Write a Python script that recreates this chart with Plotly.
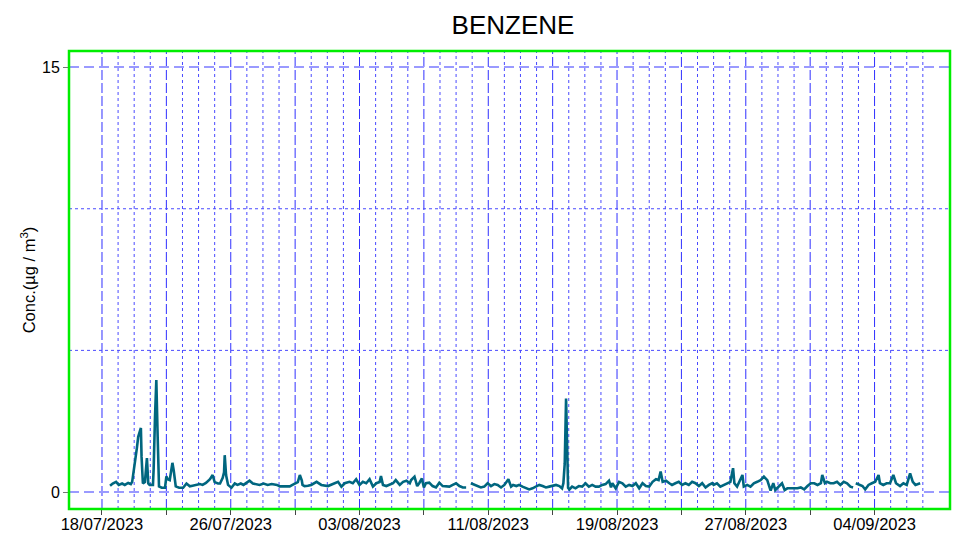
import plotly.graph_objects as go
import pandas as pd

# hours since 2023-07-18 00:00 and benzene concentration (µg/m³)
hours = [12,16,21,25,30,34,39,43,45,46,49,52,54,56,58,59,61,64,67,69,71,76,77,79,81,83,85,89,94,96,98,101,105,107,110,115,121,126,131,135,141,146,150,155,161,165,168,173,176,180,182,183,185,188,193,198,202,207,211,216,220,225,229,235,241,247,253,261,265,271,277,280,284,289,292,295,298,299,
         302,307,312,320,327,337,347,352,357,362,369,374,379,384,389,394,399,404,409,414,416,419,424,429,434,438,444,449,454,459,461,466,470,473,477,480,483,488,493,498,503,508,513,518,523,528,533,538,543,546,550,555,560,565,570,575,580,585,590,595,600,606,610,
         613,618,622,627,632,637,642,647,652,657,662,667,672,677,682,686,688,690,692,694,695,697,701,706,711,716,721,726,731,736,741,746,751,756,759,761,766,771,776,781,786,791,796,801,806,811,816,821,826,830,833,836,841,846,850,855,860,865,870,875,880,885,890,895,900,905,910,
         912,917,922,927,932,937,941,943,947,952,955,957,962,967,972,977,982,987,992,997,1001,1004,1009,1014,1018,1022,1027,1032,1037,1042,1047,1052,1057,1062,1067,1072,1074,1078,1081,1086,1091,1096,1101,1106,1111,1116,1120,1122,1124,1129,1134,1138,1143,1148,1153,1158,1160,1165,1170,1175,1180,1184,1190,1195,1200,1205,1209,1213,1218,1220]
values = [0.22,0.30,0.36,0.25,0.30,0.25,0.32,0.28,0.36,0.53,0.90,1.55,1.95,2.10,2.26,1.24,0.30,0.35,1.20,0.30,0.25,0.25,0.80,2.60,3.95,1.95,0.20,0.15,0.15,0.55,0.45,0.42,1.03,0.75,0.20,0.15,0.15,0.30,0.20,0.22,0.25,0.28,0.25,0.32,0.45,0.60,0.35,0.30,0.30,0.50,0.70,1.30,0.60,0.25,0.15,0.30,0.25,0.30,0.25,0.32,0.40,0.30,0.28,0.25,0.30,0.25,0.28,0.25,0.20,0.20,0.22,0.20,0.25,0.30,0.35,0.60,0.40,0.25,
          0.21,0.22,0.25,0.36,0.25,0.21,0.31,0.36,0.19,0.31,0.36,0.31,0.45,0.25,0.36,0.31,0.45,0.19,0.31,0.35,0.56,0.25,0.21,0.25,0.31,0.42,0.25,0.36,0.40,0.31,0.42,0.54,0.21,0.31,0.48,0.16,0.31,0.33,0.21,0.16,0.33,0.21,0.19,0.19,0.25,0.31,0.21,0.16,0.16,None,0.31,0.25,0.21,0.16,0.19,0.31,0.21,0.28,0.25,0.16,0.25,0.45,0.19,
          0.25,0.21,0.25,0.19,0.13,0.09,0.13,0.19,0.25,0.21,0.16,0.19,0.21,0.25,0.21,0.13,0.31,1.00,3.30,1.50,0.15,0.09,0.19,0.13,0.21,0.19,0.31,0.19,0.25,0.19,0.19,0.25,0.28,0.40,0.16,0.31,0.13,0.36,0.31,0.19,0.25,0.21,0.31,0.13,0.31,0.21,0.19,0.36,0.45,0.42,0.72,0.36,0.40,0.31,0.25,0.31,0.36,0.25,0.31,0.25,0.36,0.31,0.21,0.31,0.16,0.25,0.31,
          0.25,0.31,0.19,0.25,0.31,0.36,0.84,0.31,0.19,0.42,0.60,0.19,0.25,0.19,0.31,0.36,0.42,0.54,0.42,0.05,0.31,0.07,0.19,0.31,0.07,0.13,0.13,0.13,0.13,0.16,0.09,0.21,0.31,0.31,0.25,0.31,0.60,0.31,0.36,0.31,0.31,0.36,0.25,0.36,0.31,0.19,0.16,None,0.31,0.25,0.21,0.09,0.25,0.31,0.36,0.60,0.31,0.25,0.31,0.31,0.60,0.31,0.21,0.31,0.25,0.66,0.36,0.25,0.31,0.31]

start = pd.Timestamp("2023-07-18 00:00")
times = [start + pd.Timedelta(hours=h) for h in hours]

label_days = list(range(0, 49, 8))
major_days = list(range(0, 49, 4))
minor_days = [d for d in range(0, 52) if d % 4 != 0]
y_labels = [0, 15]
y_minor = [5, 10]

def day(d):
    return start + pd.Timedelta(days=d)

label_vals = [day(d) for d in label_days]
label_text = [day(d).strftime("%d/%m/%Y") for d in label_days]

x_lo = start - pd.Timedelta(hours=49.2)
x_hi = start + pd.Timedelta(hours=1264.5)

shapes = []
for d in minor_days:
    shapes.append(dict(type="line", xref="x", yref="paper", x0=day(d), x1=day(d), y0=0, y1=1,
                       line=dict(color="#4a4aff", width=1, dash="dot"), layer="below"))
for d in major_days:
    shapes.append(dict(type="line", xref="x", yref="paper", x0=day(d), x1=day(d), y0=0, y1=1,
                       line=dict(color="#3030ff", width=1, dash="10px,3px"), layer="below"))
for v in y_minor:
    shapes.append(dict(type="line", xref="paper", yref="y", x0=0, x1=1, y0=v, y1=v,
                       line=dict(color="#4a4aff", width=1, dash="dot"), layer="below"))
shapes.append(dict(type="rect", xref="paper", yref="paper", x0=0, x1=1, y0=0, y1=1,
                   line=dict(color="#00ee00", width=2.5), layer="above"))

fig = go.Figure()
fig.add_trace(go.Scatter(x=times, y=values, mode="lines",
                         line=dict(color="#00667f", width=2.6),
                         connectgaps=False, showlegend=False))

fig.update_layout(
    width=953, height=534, autosize=False,
    margin=dict(l=69, r=3, t=51, b=25),
    paper_bgcolor="white", plot_bgcolor="white",
    title=dict(text="BENZENE", x=513/953, xanchor="center", xref="container",
               y=1 - 25/534, yanchor="middle", yref="container",
               font=dict(family="Arial, Liberation Sans", size=26, color="black")),
    font=dict(family="Arial, Liberation Sans", size=16, color="black"),
    xaxis=dict(range=[x_lo, x_hi], tickmode="array", tickvals=label_vals, ticktext=label_text,
               ticks="outside", ticklen=5, tickcolor="#444444", tickwidth=1,
               showgrid=False, automargin=False, ticklabelstandoff=-5,
               minor=dict(tickmode="array", tickvals=[day(d) for d in major_days],
                          ticks="outside", ticklen=5, tickcolor="#444444", showgrid=False),
               showline=True, linecolor="black", linewidth=1, zeroline=False,
               tickfont=dict(size=16.5), tickangle=0),
    yaxis=dict(range=[-0.6, 15.57], tickmode="array", tickvals=y_labels,
               ticktext=[str(v) for v in y_labels],
               ticks="outside", ticklen=5, tickcolor="#777777", automargin=False,
               showgrid=True, gridcolor="#9a9aff", griddash="10px,5px", gridwidth=1.5,
               showline=True, linecolor="black", linewidth=1, zeroline=False,
               title=dict(text="Conc.(µg / m<sup>3</sup>)", font=dict(size=16.5), standoff=2),
               tickfont=dict(size=16)),
    shapes=shapes,
)

fig.write_html(
    "out.html",
    config={"responsive": False, "displayModeBar": False},
    post_script="document.body.style.margin='0';document.body.style.overflow='hidden';"
                "Plotly.relayout('{plot_id}', {width: 953, height: 534});",
)
